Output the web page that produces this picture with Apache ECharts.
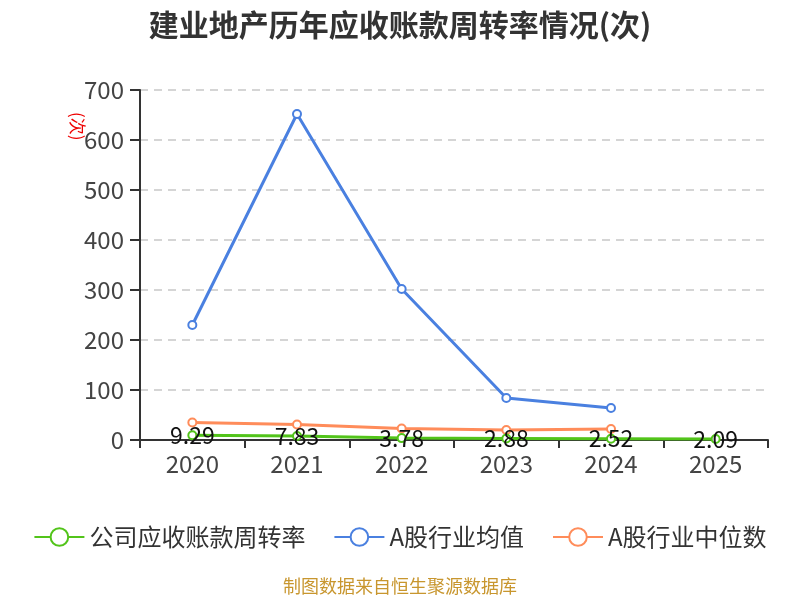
<!DOCTYPE html>
<html><head><meta charset="utf-8">
<script src="https://cdn.jsdelivr.net/npm/echarts@6/dist/echarts.min.js"></script>
<style>html,body{margin:0;padding:0;background:#fff}#c{width:800px;height:600px}</style>
</head><body><div id="c"></div>
<script>
const categories = ['2020','2021','2022','2023','2024','2025'];
const companyValues = [9.29, 7.83, 3.78, 2.88, 2.52, 2.09];
const industryAvg = [230, 652, 302, 84, 64, null];
const industryMedian = [35, 31, 23, 20, 22, null];
const yTicks = {min: 0, max: 700, interval: 100};

const chart = echarts.init(document.getElementById('c'));
const font = '"Noto Sans CJK SC", "Noto Sans", sans-serif';
chart.setOption({
  backgroundColor: '#fff',
  title: {text: '建业地产历年应收账款周转率情况(次)', left: 'center', top: 5,
    textStyle: {fontSize: 30, fontWeight: 'bold', color: '#333', fontFamily: font}},
  graphic: [
    {type: 'text', left: 'center', top: 577,
      style: {text: '制图数据来自恒生聚源数据库', fill: '#c8962e', fontSize: 18, fontFamily: font}},
    {type: 'text', x: 86, y: 112, rotation: -Math.PI / 2,
      style: {text: '(次)', fill: '#e00', fontSize: 17, fontFamily: font}}
  ],
  legend: {bottom: 46, itemWidth: 50, itemHeight: 22, itemGap: 28,
    textStyle: {fontSize: 24, color: '#333', fontFamily: font},
    data: ['公司应收账款周转率', 'A股行业均值', 'A股行业中位数']},
  grid: {left: 140, right: 32, top: 90, bottom: 160},
  xAxis: {type: 'category', data: categories, boundaryGap: true,
    axisLine: {lineStyle: {color: '#333', width: 2}},
    axisTick: {show: true, length: 8, lineStyle: {color: '#333', width: 2}},
    axisLabel: {fontSize: 24, color: '#444', margin: 12, fontFamily: font}},
  yAxis: {type: 'value', min: yTicks.min, max: yTicks.max, interval: yTicks.interval,
    axisLine: {show: true, lineStyle: {color: '#333', width: 2}},
    axisTick: {show: true, length: 10, lineStyle: {color: '#333', width: 2}},
    axisLabel: {fontSize: 24, color: '#444', margin: 16, fontFamily: font},
    splitLine: {lineStyle: {type: [8, 6], color: '#c8c8c8', width: 1.5}}},
  series: [
    {name: '公司应收账款周转率', type: 'line', data: companyValues, symbol: 'emptyCircle', symbolSize: 8,
      itemStyle: {color: '#52c41a'}, lineStyle: {width: 3, color: '#52c41a'},
      label: {show: true, position: 'inside', fontSize: 23, color: '#111', fontFamily: font}, z: 3},
    {name: 'A股行业均值', type: 'line', data: industryAvg, symbol: 'emptyCircle', symbolSize: 8,
      itemStyle: {color: '#4a80e0'}, lineStyle: {width: 3, color: '#4a80e0'}, z: 2},
    {name: 'A股行业中位数', type: 'line', data: industryMedian, symbol: 'emptyCircle', symbolSize: 8,
      itemStyle: {color: '#ff8c5a'}, lineStyle: {width: 3, color: '#ff8c5a'}, z: 1}
  ]
});
</script></body></html>
